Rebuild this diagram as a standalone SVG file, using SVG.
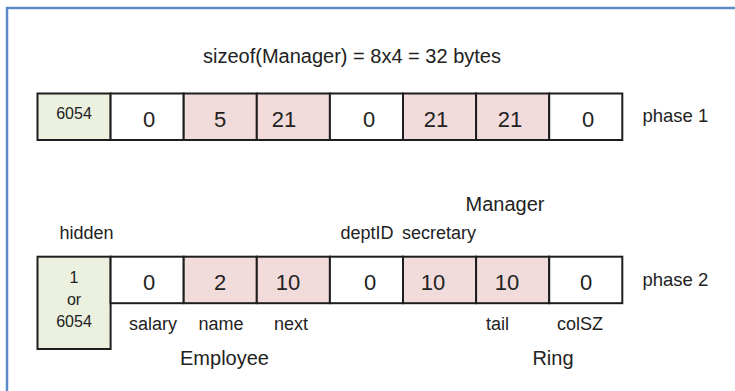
<svg xmlns="http://www.w3.org/2000/svg" width="735" height="391" viewBox="0 0 735 391">
<style>
text{font-family:"Liberation Sans",Arial,sans-serif;fill:#222;}
.cell{stroke:#1e1e1e;stroke-width:2;}
.w{fill:#ffffff;}
.p{fill:#f2dcdb;}
.g{fill:#ebf1de;}
.big{font-size:22px;text-anchor:middle;}
.sm{font-size:16px;text-anchor:middle;}
.lbl{font-size:18px;text-anchor:middle;}
.lg{font-size:20px;text-anchor:middle;}
.ph{font-size:18.5px;}
</style>
<rect x="0" y="0" width="735" height="391" fill="#ffffff"/>
<rect id="frame" x="7" y="8" width="800" height="500" fill="none" stroke="#5b8ac6" stroke-width="2.5"/>
<text id="title" x="352" y="63" class="lg">sizeof(Manager) = 8x4 = 32 bytes</text>

<g id="phase1">
<g id="p1c0"><rect class="cell g" x="37.5" y="93.5" width="73.1" height="46.5"/><text class="sm" x="74" y="119">6054</text></g>
<g id="p1c1"><rect class="cell w" x="110.6" y="93.5" width="73.1" height="46.5"/><text class="big" x="149" y="126.5">0</text></g>
<g id="p1c2"><rect class="cell p" x="183.7" y="93.5" width="73.1" height="46.5"/><text class="big" x="220" y="126.5">5</text></g>
<g id="p1c3"><rect class="cell p" x="256.8" y="93.5" width="73.1" height="46.5"/><text class="big" x="284" y="126.5">21</text></g>
<g id="p1c4"><rect class="cell w" x="329.9" y="93.5" width="73.1" height="46.5"/><text class="big" x="369" y="126.5">0</text></g>
<g id="p1c5"><rect class="cell p" x="403" y="93.5" width="73.1" height="46.5"/><text class="big" x="436" y="126.5">21</text></g>
<g id="p1c6"><rect class="cell p" x="476.1" y="93.5" width="73.1" height="46.5"/><text class="big" x="510" y="126.5">21</text></g>
<g id="p1c7"><rect class="cell w" x="549.2" y="93.5" width="73.1" height="46.5"/><text class="big" x="588" y="126.5">0</text></g>
<text id="p1label" class="ph" x="642.5" y="122">phase 1</text>
</g>

<g id="phase2">
<g id="p2c0"><rect class="cell g" x="37.5" y="256.7" width="73.1" height="92.3"/><text class="sm" x="74" y="283">1</text><text class="sm" x="74" y="305">or</text><text class="sm" x="74" y="327">6054</text></g>
<g id="p2c1"><rect class="cell w" x="110.6" y="256.7" width="73.1" height="46.5"/><text class="big" x="149" y="289.5">0</text></g>
<g id="p2c2"><rect class="cell p" x="183.7" y="256.7" width="73.1" height="46.5"/><text class="big" x="220" y="289.5">2</text></g>
<g id="p2c3"><rect class="cell p" x="256.8" y="256.7" width="73.1" height="46.5"/><text class="big" x="288" y="289.5">10</text></g>
<g id="p2c4"><rect class="cell w" x="329.9" y="256.7" width="73.1" height="46.5"/><text class="big" x="370" y="289.5">0</text></g>
<g id="p2c5"><rect class="cell p" x="403" y="256.7" width="73.1" height="46.5"/><text class="big" x="433" y="289.5">10</text></g>
<g id="p2c6"><rect class="cell p" x="476.1" y="256.7" width="73.1" height="46.5"/><text class="big" x="507" y="289.5">10</text></g>
<g id="p2c7"><rect class="cell w" x="549.2" y="256.7" width="73.1" height="46.5"/><text class="big" x="586" y="289.5">0</text></g>
<text id="p2label" class="ph" x="642.5" y="285.5">phase 2</text>
</g>

<g id="labels">
<text class="lbl" x="86.5" y="239">hidden</text>
<text class="lg" x="505" y="211">Manager</text>
<text class="lbl" x="367" y="239">deptID</text>
<text class="lbl" x="439" y="239">secretary</text>
<text class="lbl" x="153" y="330">salary</text>
<text class="lbl" x="221" y="330">name</text>
<text class="lbl" x="291" y="330">next</text>
<text class="lbl" x="497.5" y="330">tail</text>
<text class="lbl" x="580" y="330">colSZ</text>
<text class="lg" x="224.5" y="365">Employee</text>
<text class="lg" x="553" y="365">Ring</text>
</g>
</svg>
